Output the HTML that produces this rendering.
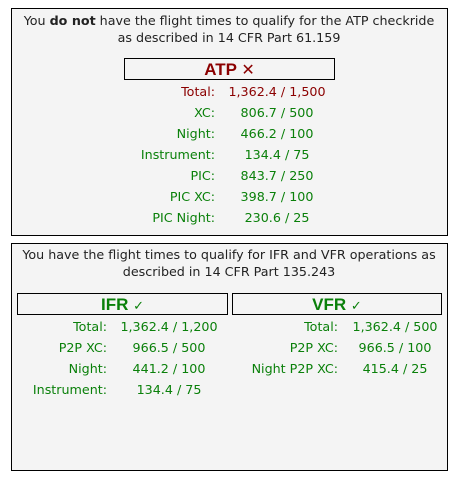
<!DOCTYPE html>
<html><head><meta charset="utf-8"><style>
body{margin:0;width:458px;height:484px;background:#fff;font-family:"DejaVu Sans","Liberation Sans",sans-serif;font-size:12.7px;position:relative;overflow:hidden}
.box{position:absolute;left:11px;width:435px;background:#f4f4f4;border:1px solid #000}
.t{position:absolute;white-space:nowrap;line-height:14px}
.c{text-align:center;transform:translateX(-50%)}
.r{text-align:right;transform:translateX(-100%)}
.g{color:#0a800a}.red{color:#8b0000}
.hd{position:absolute;border:1px solid #000;height:20px;line-height:21px;text-align:center;font-family:"Liberation Sans",sans-serif;font-weight:bold;font-size:17px}
</style></head><body>
<div class="box" style="top:8px;height:226px"></div>
<div class="t c" style="left:229px;top:14px;color:#222">You <b>do not</b> have the flight times to qualify for the ATP checkride</div>
<div class="t c" style="left:229px;top:31px;color:#222">as described in 14 CFR Part 61.159</div>
<div class="hd red" style="left:124px;top:58px;width:209px">ATP <span style="font-weight:normal;font-size:16px">✕</span></div>
<div class="box" style="top:243px;height:226px"></div>
<div class="t c" style="left:229px;top:248px;color:#222">You have the flight times to qualify for IFR and VFR operations as</div>
<div class="t c" style="left:229px;top:265px;color:#222">described in 14 CFR Part 135.243</div>
<div class="hd g" style="left:17px;top:293px;width:209px">IFR <span style="font-weight:normal;font-size:13px">✓</span></div>
<div class="hd g" style="left:232px;top:293px;width:208px">VFR <span style="font-weight:normal;font-size:13px">✓</span></div>
<script>
const atpLabels=["Total:","XC:","Night:","Instrument:","PIC:","PIC XC:","PIC Night:"];
const atpValues=["1,362.4 / 1,500","806.7 / 500","466.2 / 100","134.4 / 75","843.7 / 250","398.7 / 100","230.6 / 25"];
const ifrLabels=["Total:","P2P XC:","Night:","Instrument:"];
const ifrValues=["1,362.4 / 1,200","966.5 / 500","441.2 / 100","134.4 / 75"];
const vfrLabels=["Total:","P2P XC:","Night P2P XC:"];
const vfrValues=["1,362.4 / 500","966.5 / 100","415.4 / 25"];
function rows(labels,values,lx,vx,y0,cls0,name){
  labels.forEach((l,i)=>{
    const cls=(i===0&&cls0)?cls0:'g';
    const a=document.createElement('div');
    a.className='t r '+cls;a.style.left=lx+'px';a.style.top=(y0+i*21)+'px';a.textContent=l;
    
    
    document.body.appendChild(a);
    const b=document.createElement('div');
    b.className='t c '+cls;b.style.left=vx+'px';b.style.top=(y0+i*21)+'px';b.textContent=values[i];
    
    
    document.body.appendChild(b);
  });
}
rows(atpLabels,atpValues,215,277,85,'red','atp-row');
rows(ifrLabels,ifrValues,107,169,320,null,'ifr-row');
rows(vfrLabels,vfrValues,338,395,320,null,'vfr-row');
</script>
</body></html>
